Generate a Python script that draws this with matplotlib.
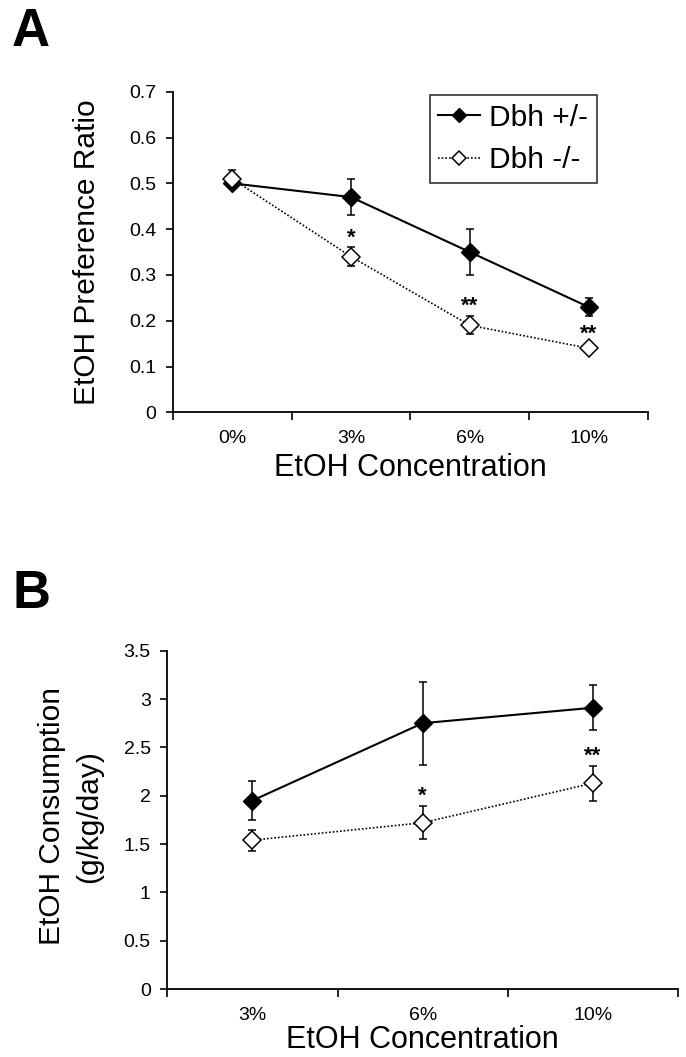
import numpy as np
import matplotlib
matplotlib.use("Agg")
from matplotlib import pyplot as plt

plt.rcParams['font.family'] = ['Liberation Sans', 'DejaVu Sans']

# panel A: preference ratio
conc_a = ['0%', '3%', '6%', '10%']
het_a = [0.50, 0.47, 0.35, 0.23]
het_a_err = [0.01, 0.04, 0.05, 0.02]
ko_a = [0.51, 0.34, 0.19, 0.14]
ko_a_err = [0.02, 0.02, 0.02, 0.01]
stars_a = ['', '*', '**', '**']

# panel B: consumption g/kg/day
conc_b = ['3%', '6%', '10%']
het_b = [1.95, 2.75, 2.91]
het_b_err = [0.20, 0.43, 0.23]
ko_b = [1.54, 1.72, 2.13]
ko_b_err = [0.11, 0.17, 0.18]
stars_b = ['', '*', '**']

fig = plt.figure(figsize=(6.86, 10.57), dpi=100)
axA = fig.add_axes([0.2518, 0.6099, 0.6929, 0.3033])
axB = fig.add_axes([0.2439, 0.0643, 0.7445, 0.3201])


def panel(ax, cats, het, het_err, ko, ko_err, stars, ymax, ystep, xlsize, xlpad):
	x = np.arange(len(cats)) + 0.5
	e1 = ax.errorbar(x, het, yerr=het_err, color='black', lw=1.5, marker='D', ms=8.8,
				mfc='black', mec='black', capsize=2.8, elinewidth=1.1, capthick=1.1,
				label='Dbh +/-', zorder=3)
	e2 = ax.errorbar(x, ko, yerr=ko_err, color='black', lw=1.2, ls=(0, (1, 1.2)), marker='D', ms=8.8,
				mfc='white', mec='black', mew=1.1, capsize=2.8, elinewidth=1.1, capthick=1.1,
				label='Dbh -/-', zorder=4)
	for xi, yi, ei, s in zip(x, ko, ko_err, stars):
		if s:
			ax.annotate(s, (xi, yi + ei), xytext=(0, 7), textcoords='offset points',
						ha='center', va='center', fontsize=16, fontweight='bold')
	ax.set_xlim(0, len(cats))
	ax.set_ylim(0, ymax)
	ax.set_xticks(np.arange(len(cats) + 1))
	ax.set_xticklabels([])
	ax.set_xticks(x, minor=True)
	ax.set_xticklabels(cats, minor=True)
	ax.tick_params(axis='x', which='minor', length=0, pad=13, labelsize=14)
	ax.tick_params(axis='x', which='major', direction='out', length=6, width=1.2)
	ax.set_yticks(np.arange(0, ymax + ystep / 2, ystep))
	ax.tick_params(axis='y', direction='out', length=5, width=1.2, labelsize=14, pad=7)
	for side in ['top', 'right']:
		ax.spines[side].set_visible(False)
	for side in ['left', 'bottom']:
		ax.spines[side].set_linewidth(1.3)
	ax.set_xlabel('EtOH Concentration', fontsize=xlsize, labelpad=xlpad)
	return e1, e2


e1, e2 = panel(axA, conc_a, het_a, het_a_err, ko_a, ko_a_err, stars_a, 0.7, 0.1, 22, 4)
axA.set_yticklabels(['0'] + ['%.1f' % v for v in np.arange(0.1, 0.75, 0.1)])
axA.set_ylabel('EtOH Preference Ratio', fontsize=21.5)
axA.yaxis.set_label_coords(-0.151, 0.5)
leg = axA.legend(handles=[e1[0], e2[0]], labels=['Dbh +/-', 'Dbh -/-'],
				 loc='upper right', bbox_to_anchor=(0.893, 0.99), fontsize=21.5, frameon=True,
				 fancybox=False, edgecolor='black', handlelength=1.4, handletextpad=0.3,
				 borderpad=0.3, labelspacing=0.48, borderaxespad=0, markerscale=0.85)
leg.get_frame().set_linewidth(1.2)

panel(axB, conc_b, het_b, het_b_err, ko_b, ko_b_err, stars_b, 3.5, 0.5, 22, 1)
axB.set_yticklabels(['0', '0.5', '1', '1.5', '2', '2.5', '3', '3.5'])
axB.set_ylabel('EtOH Consumption\n(g/kg/day)', fontsize=21.5, linespacing=1.4)
axB.yaxis.set_label_coords(-0.126, 0.51)

fig.text(12 / 686, 1 - 46 / 1057, 'A', fontsize=38, fontweight='bold', va='baseline')
fig.text(12 / 686, 1 - 608 / 1057, 'B', fontsize=38, fontweight='bold', va='baseline')

fig.savefig('out.png', dpi=100)
